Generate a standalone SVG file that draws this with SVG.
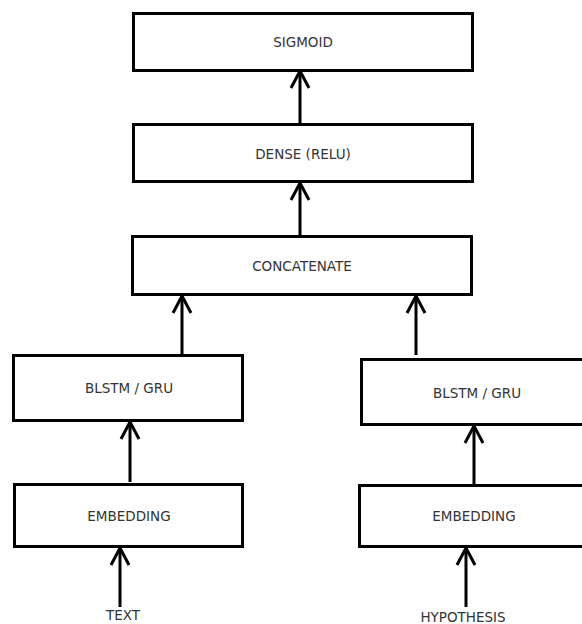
<svg xmlns="http://www.w3.org/2000/svg" width="582" height="624" viewBox="0 0 582 624">
<style>
.box{fill:#fff;stroke:#000;stroke-width:3}
.lbl{font-family:"DejaVu Sans",sans-serif;font-size:13.5px;fill:#333;text-anchor:middle}
.edge{fill:none;stroke:#000;stroke-width:3}
</style>
<rect width="582" height="624" fill="#fff"/>
<g id="edges">
<path class="edge" d="M300,128 L300,72"/><path class="edge" d="M291,88 L300,71 L309,88"/>
<path class="edge" d="M300,240 L300,184"/><path class="edge" d="M291,200 L300,183 L309,200"/>
<path class="edge" d="M182,354 L182,297"/><path class="edge" d="M173,313 L182,296 L191,313"/>
<path class="edge" d="M416,355 L416,297"/><path class="edge" d="M407,313 L416,296 L425,313"/>
<path class="edge" d="M130,482 L130,423"/><path class="edge" d="M121,439 L130,422 L139,439"/>
<path class="edge" d="M474,485 L474,427"/><path class="edge" d="M465,443 L474,426 L483,443"/>
<path class="edge" d="M120,607 L120,549"/><path class="edge" d="M111,565 L120,548 L129,565"/>
<path class="edge" d="M466,607 L466,549"/><path class="edge" d="M457,565 L466,548 L475,565"/>
</g>
<g id="sigmoid"><rect class="box" x="133.5" y="13.5" width="339" height="57"/><text class="lbl" x="303" y="47">SIGMOID</text></g>
<g id="dense"><rect class="box" x="133.5" y="124.5" width="339" height="57"/><text class="lbl" x="303" y="159">DENSE (RELU)</text></g>
<g id="concat"><rect class="box" x="132.5" y="236.5" width="339" height="58"/><text class="lbl" x="302" y="271">CONCATENATE</text></g>
<g id="blstm-left"><rect class="box" x="13.5" y="355.5" width="229" height="65"/><text class="lbl" x="129" y="393">BLSTM / GRU</text></g>
<g id="embed-left"><rect class="box" x="14.5" y="484.5" width="228" height="62"/><text class="lbl" x="129" y="521">EMBEDDING</text></g>
<g id="blstm-right"><rect class="box" x="361.5" y="359.5" width="229" height="65"/><text class="lbl" x="477" y="398">BLSTM / GRU</text></g>
<g id="embed-right"><rect class="box" x="359.5" y="485.5" width="229" height="61"/><text class="lbl" x="474" y="521">EMBEDDING</text></g>
<g id="text-in"><text class="lbl" x="123" y="620">TEXT</text></g>
<g id="hyp-in"><text class="lbl" x="463" y="621.5">HYPOTHESIS</text></g>
</svg>
